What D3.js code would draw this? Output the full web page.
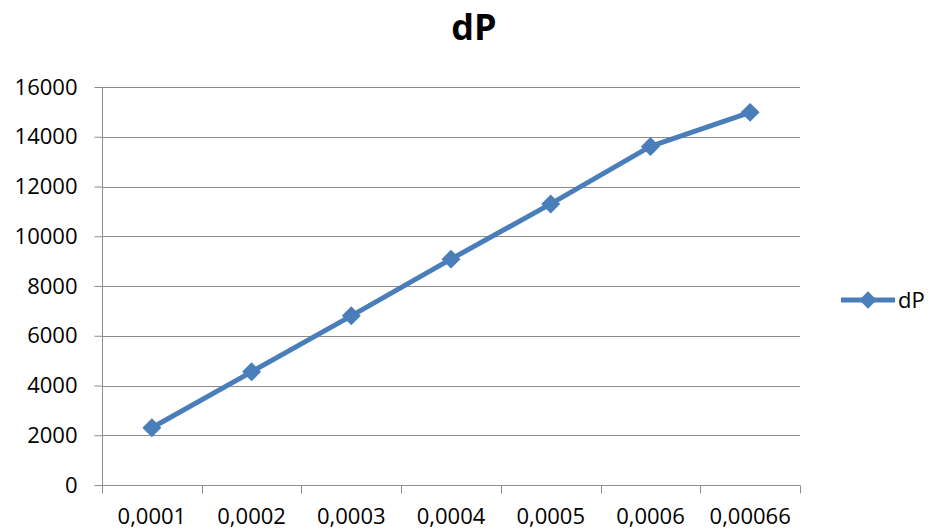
<!DOCTYPE html>
<html><head><meta charset="utf-8">
<script src="https://cdn.jsdelivr.net/npm/d3@7"></script>
<style>body{margin:0;background:#fff}svg{display:block}</style>
</head><body>
<svg id="c" width="930" height="530"></svg>
<script>
const categories = ["0,0001","0,0002","0,0003","0,0004","0,0005","0,0006","0,00066"];
const dPValues = [2300, 4550, 6800, 9080, 11300, 13610, 14980];
const yTicks = [0,2000,4000,6000,8000,10000,12000,14000,16000];
const seriesName = "dP";
const titleText = "dP";

const svg = d3.select("#c");
const m = {l:102, r:800, t:87, b:485};
const font = "'Open Sans', sans-serif";
const blue = "#4A7EBB";
const grid = "#8c8c8c";

const x = d3.scaleBand().domain(categories).range([m.l, m.r]);
const y = d3.scaleLinear().domain([0,16000]).range([m.b, m.t]);

// gridlines
svg.append("g").selectAll("line").data(yTicks.filter(d=>d>0)).join("line")
  .attr("x1", m.l).attr("x2", m.r)
  .attr("y1", d=>Math.round(y(d))+0.5).attr("y2", d=>Math.round(y(d))+0.5)
  .attr("stroke", grid).attr("stroke-width",1);

// y axis
const ya = svg.append("g").attr("transform",`translate(${m.l+0.5},0)`)
  .call(d3.axisLeft(y).tickValues(yTicks).tickSize(8).tickPadding(17).tickFormat(d3.format("d")));
ya.selectAll("path,line").attr("stroke", grid);
ya.select(".domain").attr("d", `M0,${m.t}V${m.b}`);
ya.selectAll("text").attr("font-family", font).attr("font-size", 22).attr("fill","#000");

// x axis
const xa = svg.append("g").attr("transform",`translate(0,${m.b+0.5})`)
  .call(d3.axisBottom(x).tickSize(0).tickPadding(23));
xa.selectAll(".domain").attr("stroke", grid).attr("d", `M${m.l},0H${m.r}`);
xa.selectAll("text").attr("font-family", font).attr("font-size", 22).attr("fill","#000");
const bounds = categories.map(c=>x(c)).concat([m.r]);
xa.selectAll(".bt").data(bounds).join("line").attr("class","bt")
  .attr("x1", d=>Math.round(d)+0.5).attr("x2", d=>Math.round(d)+0.5)
  .attr("y1", 0).attr("y2", 8).attr("stroke", grid);

// line
const cx = c => x(c) + x.bandwidth()/2;
const line = d3.line().x((d,i)=>cx(categories[i])).y(d=>y(d));
svg.append("path").datum(dPValues).attr("d", line)
  .attr("fill","none").attr("stroke", blue).attr("stroke-width",5).attr("stroke-linejoin","round");

svg.append("g").selectAll("path").data(dPValues).join("path")
  .attr("transform",(d,i)=>`translate(${cx(categories[i])},${y(d)}) rotate(45)`)
  .attr("d", d3.symbol().type(d3.symbolSquare).size(180)).attr("fill", blue);

// title
svg.append("text").attr("x", 474).attr("y", 40).attr("text-anchor","middle")
  .attr("font-family", font).attr("font-weight","bold").attr("font-size", 36).text(titleText);

// legend
const ly = 300;
svg.append("line").attr("x1",841).attr("x2",895).attr("y1",ly).attr("y2",ly)
  .attr("stroke", blue).attr("stroke-width",5);
svg.append("path").attr("transform",`translate(868,${ly}) rotate(45)`)
  .attr("d", d3.symbol().type(d3.symbolSquare).size(150)).attr("fill", blue);
svg.append("text").attr("x",898).attr("y",ly).attr("dy","0.35em")
  .attr("font-family", font).attr("font-size", 22).text(seriesName);
</script>
</body></html>
